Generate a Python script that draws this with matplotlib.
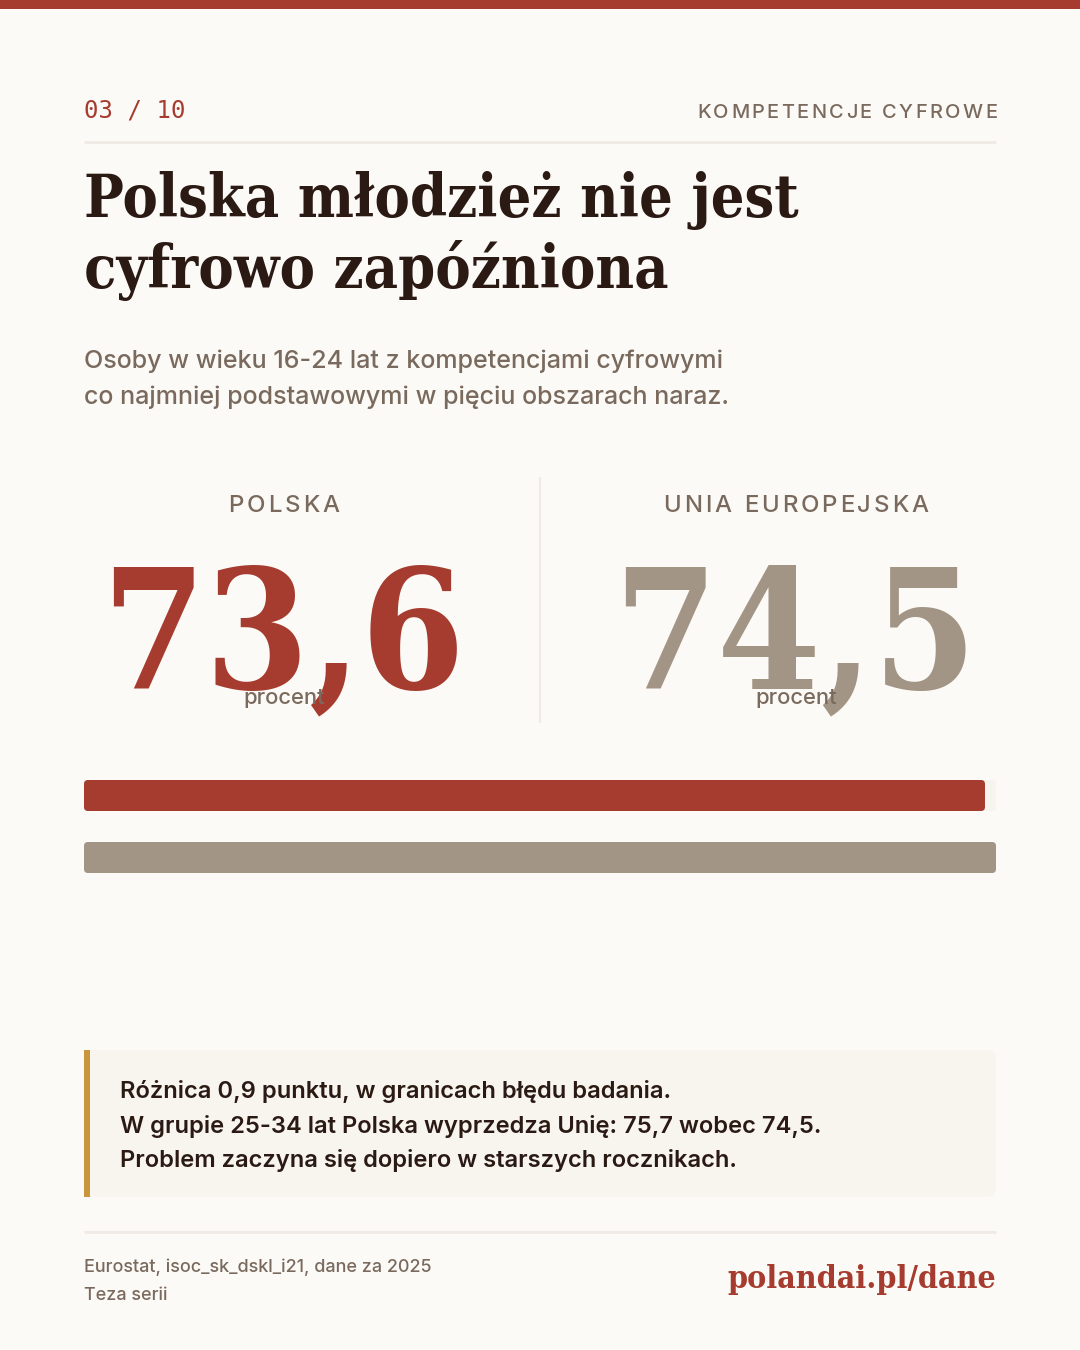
import matplotlib
matplotlib.use("Agg")
import matplotlib.pyplot as plt
from matplotlib import font_manager as fm
from matplotlib.ft2font import FT2Font
from matplotlib.patches import FancyBboxPatch, Rectangle

# data
labels = ["POLSKA", "UNIA EUROPEJSKA"]
values = [73.6, 74.5]
value_texts = ["73,6", "74,5"]
unit = "procent"
kicker_left = "03 / 10"
kicker_right = "KOMPETENCJE CYFROWE"
title_lines = ["Polska młodzież nie jest", "cyfrowo zapóźniona"]
subtitle_lines = ["Osoby w wieku 16-24 lat z kompetencjami cyfrowymi",
                  "co najmniej podstawowymi w pięciu obszarach naraz."]
note_lines = ["Różnica 0,9 punktu, w granicach błędu badania.",
              "W grupie 25-34 lat Polska wyprzedza Unię: 75,7 wobec 74,5.",
              "Problem zaczyna się dopiero w starszych rocznikach."]
source_lines = ["Eurostat, isoc_sk_dskl_i21, dane za 2025", "Teza serii"]
brand = "polandai.pl/dane"

BG = "#fcfaf6"
RED = "#a63c2f"
GREY = "#a39585"
MUTED = "#7a6a5e"
DARK = "#2b1a14"
LINE = "#efeae3"
GOLD = "#c9963e"
BOX = "#f8f4ee"
colors = [RED, GREY]

SANS = ["Inter", "DejaVu Sans"]
SERIF = ["DejaVu Serif"]

fig = plt.figure(figsize=(10.8, 13.5), dpi=100, facecolor=BG)
ax = fig.add_axes([0, 0, 1, 1])
ax.set_xlim(0, 1080)
ax.set_ylim(1350, 0)
ax.axis("off")


def px(s):
    return s * 0.72


def spaced(x, y, s, spacing, size, ha="left", weight="medium", color=MUTED):
    # letter-spaced text: glyph advances read from the font file
    fp = fm.FontProperties(family="Inter", weight=weight)
    font = FT2Font(fm.findfont(fp))
    font.set_size(px(size), 100)
    pos = []
    pen = 0.0
    for ch in s:
        g = font.load_char(ord(ch))
        pos.append(pen)
        pen += g.linearHoriAdvance / 65536 + spacing
    total = pen - spacing
    x0 = {"left": x, "right": x - total, "center": x - total / 2}[ha]
    for ch, p in zip(s, pos):
        if ch != " ":
            ax.text(x0 + p, y, ch, ha="left", va="baseline", family=SANS,
                    fontsize=px(size), fontweight=weight, color=color)


# top stripe
ax.add_patch(Rectangle((0, 0), 1080, 9, color=RED, lw=0))

# header
ax.text(84, 118, kicker_left, family=["DejaVu Sans Mono"], fontsize=px(24),
        color=RED, va="baseline")
spaced(997, 118, kicker_right, 2.4, 20, ha="right")
ax.plot([84, 996], [142, 142], color=LINE, lw=2, solid_capstyle="butt")

# title
for i, line in enumerate(title_lines):
    ax.text(84, 217 + i * 71, line, family=SERIF, fontstretch="condensed",
            fontweight="bold", fontsize=px(59), color=DARK, va="baseline")

# subtitle
for i, line in enumerate(subtitle_lines):
    ax.text(84, 368 + i * 36, line, family=SANS, fontweight="medium",
            fontsize=px(25.1), color=MUTED, va="baseline")

# two stat columns
ax.plot([540, 540], [478, 722], color=LINE, lw=1.5)
centers = [284, 796]
for cx, lab, vt, c in zip(centers, labels, value_texts, colors):
    spaced(cx, 512, lab, 2.9, 24, ha="center")
    ax.text(cx - 1, 688, vt, family=SERIF, fontstretch="condensed", fontweight="bold",
            fontsize=px(166), color=c, ha="center", va="baseline")
    ax.text(cx, 704, unit, family=SANS, fontweight="medium", fontsize=px(22),
            color=MUTED, ha="center", va="baseline")

# bars
bax = fig.add_axes([84 / 1080, (1350 - 873) / 1350, 912 / 1080, 93 / 1350])
bax.set_xlim(0, max(values))
bax.set_ylim(1.25, -0.25)
bax.axis("off")
bax.patch.set_alpha(0)
aspect = (1.5 / 93) / (max(values) / 912)
rs = 4 * max(values) / 912
for i, v in enumerate(values):
    bax.add_patch(FancyBboxPatch((0, i - 0.25), max(values), 0.5,
                                 boxstyle=f"round,pad=0,rounding_size={rs}",
                                 mutation_aspect=aspect, color="#f7f3ed", lw=0))
    bax.add_patch(FancyBboxPatch((0, i - 0.25), v, 0.5,
                                 boxstyle=f"round,pad=0,rounding_size={rs}",
                                 mutation_aspect=aspect, color=colors[i], lw=0))

# note box
ax.add_patch(FancyBboxPatch((84, 1050), 912, 147,
                            boxstyle="round,pad=0,rounding_size=8",
                            color=BOX, lw=0))
ax.add_patch(Rectangle((84, 1050), 6, 147, color=GOLD, lw=0))
for i, line in enumerate(note_lines):
    ax.text(120, 1098 + i * 34.5, line, family=SANS, fontweight="semibold",
            fontsize=px(23.7), color=DARK, va="baseline")

# footer
ax.plot([84, 996], [1232, 1232], color=LINE, lw=2, solid_capstyle="butt")
for i, line in enumerate(source_lines):
    ax.text(84, 1272 + i * 28, line, family=SANS, fontweight="medium",
            fontsize=px(18), color=MUTED, va="baseline")
ax.text(996, 1288, brand, family=SERIF, fontstretch="condensed", fontweight="bold",
        fontsize=px(32), color=RED, ha="right", va="baseline")

fig.savefig("out.png", dpi=100, facecolor=BG)
